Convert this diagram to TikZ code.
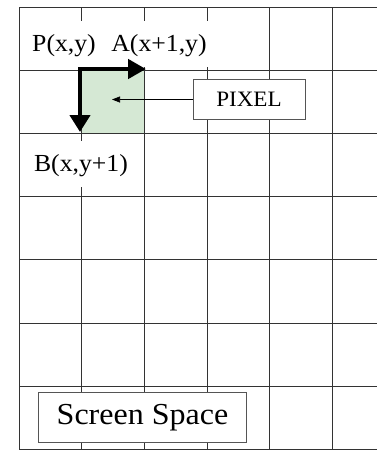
\documentclass[tikz,border=0pt]{standalone}
\usepackage{fontspec}
\setmainfont{Liberation Serif}[FakeStretch=1.05]
\usetikzlibrary{arrows.meta}
\definecolor{gridc}{HTML}{333333}
\definecolor{pixgreen}{HTML}{D5E8D4}
\definecolor{boxc}{HTML}{555555}
\begin{document}
\begin{tikzpicture}[x=1pt,y=-1pt,
  gridline/.style={draw=gridc,line width=0.9pt},
  lbl/.style={fill=white,inner xsep=3pt,inner ysep=0pt,text height=30pt,text depth=16pt,anchor=base,font=\fontsize{24.5}{24.5}\selectfont},
  boxnode/.style={draw=boxc,fill=white,line width=0.9pt,inner sep=0pt},
  bigarrow/.style={line width=4.5pt,line join=miter,{Triangle[length=18pt,width=19pt]}-{Triangle[length=17pt,width=20pt]}},
  thinarrow/.style={line width=0.7pt,-{Triangle[length=8pt,width=6pt]}}
  ]
\path[use as bounding box] (0,0) rectangle (377,450);
% highlighted pixel
\fill[pixgreen] (81.65,70.2) rectangle (144.3,133.4);
% grid
\foreach \i in {0,...,7} \draw[gridline] (19,{7+63.2*\i}) -- (377,{7+63.2*\i});
\foreach \j in {0,...,5} \draw[gridline] ({19+62.65*\j},7) -- ({19+62.65*\j},449.4);
% labels
\node[lbl] (P) at (64,51) {P(x,y)};
\node[lbl] (A) at (159,51) {A(x+1,y)};
\node[lbl] (B) at (81,171) {B(x,y+1)};
% boxes
\node[boxnode,minimum width=112pt,minimum height=40pt,font=\fontsize{22}{22}\selectfont] (pix) at (249,99.5) {PIXEL};
\node[boxnode,minimum width=208pt,minimum height=50pt,font=\fontsize{30.5}{30.5}\selectfont] (scr) at (142.5,417.7) {Screen Space};
% arrows
\coordinate (corner) at (80,69);
\coordinate (atip) at (146,69);
\coordinate (btip) at (80,132);
\coordinate (ptr) at (112,99.5);
\draw[bigarrow] (atip) -- (corner) -- (btip);
\draw[thinarrow] (pix.west) -- (ptr);
\end{tikzpicture}
\end{document}
